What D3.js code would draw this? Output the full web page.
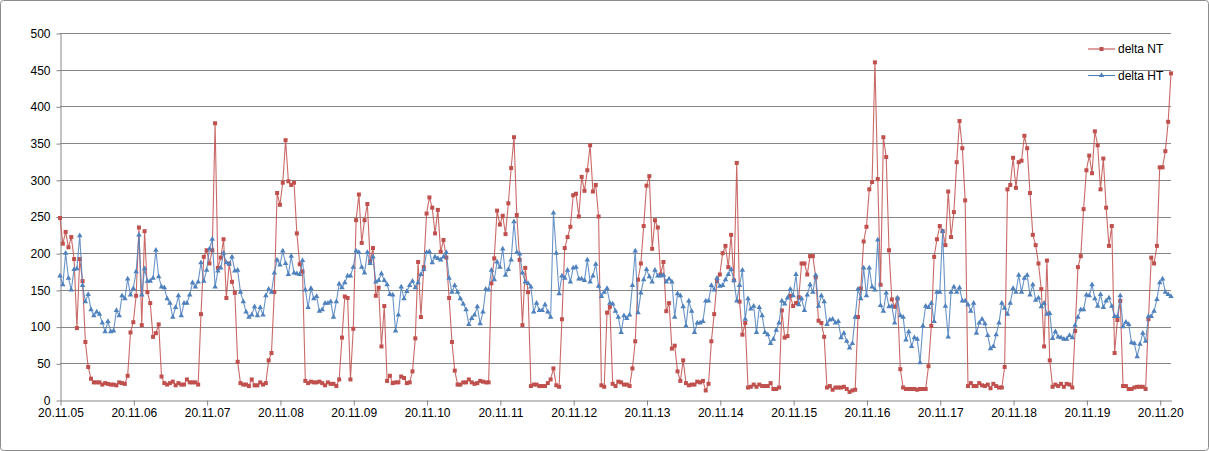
<!DOCTYPE html>
<html><head><meta charset="utf-8">
<script src="https://cdn.jsdelivr.net/npm/d3@7"></script>
<style>
html,body{margin:0;padding:0;background:#fff;}
svg{display:block;font-family:"Liberation Sans",Arial,sans-serif;}
</style></head>
<body><svg id="c" width="1209" height="451"></svg>
<script>
const tickLabels = ["20.11.05","20.11.06","20.11.07","20.11.08","20.11.09","20.11.10","20.11.11","20.11.12","20.11.13","20.11.14","20.11.15","20.11.16","20.11.17","20.11.18","20.11.19","20.11.20"];
const tickEvery = 26;
const yTicks = [0,50,100,150,200,250,300,350,400,450,500];
const seriesNames = ["delta NT","delta HT"];

const deltaNT = [
248,213,229,208,222,192,98,192,162,79,45,29,24,24,24,21,23,22,21,21,20,24,23,22,33,92,106,
142,235,102,230,147,132,86,91,103,32,23,21,23,25,20,23,21,21,28,24,24,24,21,117,195,204,186,204,377,180,194,219,139,
186,161,146,52,23,21,21,19,28,20,20,24,21,23,54,64,147,282,266,296,354,298,293,296,227,185,175,26,23,25,24,24,25,23,20,
24,22,22,19,28,85,141,139,28,97,245,280,214,245,267,189,207,142,153,73,128,26,33,23,24,24,32,30,23,24,39,84,188,113,
181,254,276,262,227,259,202,218,194,139,79,40,21,21,24,24,28,24,22,23,26,25,24,24,159,193,258,239,251,226,268,316,358,252,
191,102,180,147,19,21,21,19,19,19,23,28,43,20,18,110,207,222,236,279,281,250,304,285,313,347,284,293,250,20,18,119,127,22,
19,25,24,21,21,19,43,80,164,186,237,292,305,206,245,235,171,188,121,132,70,74,39,26,54,23,20,21,21,25,24,26,13,
22,80,117,162,171,200,210,181,225,163,323,134,89,105,17,18,21,18,21,19,19,19,23,15,15,17,122,85,87,142,128,132,
140,
186,186,171,196,196,167,108,105,86,17,19,14,17,17,17,18,15,11,13,14,113,152,216,236,287,297,460,301,157,358,331,204,137,127,138,
42,17,15,15,15,15,14,15,15,15,46,101,195,219,237,230,211,284,222,256,324,380,343,272,19,23,19,19,23,20,19,21,16,22,
19,17,17,45,287,293,330,289,324,326,360,343,282,225,211,186,151,73,190,54,18,21,19,22,18,22,21,17,94,181,196,260,313,333,
309,366,347,287,329,262,210,237,64,109,135,19,19,15,15,17,18,18,18,15,110,194,186,210,317,317,339,379,445
];

const deltaHT = [
169,157,200,166,150,178,179,224,156,134,144,123,115,120,117,105,93,107,93,94,122,115,142,138,165,143,152,
175,225,143,179,162,162,166,204,168,154,153,138,132,113,126,142,115,132,132,143,160,154,161,187,162,177,206,219,154,176,180,200,187,
185,195,176,177,147,134,120,113,116,127,115,126,116,142,151,147,173,191,184,203,186,171,196,173,172,171,190,150,126,152,138,141,121,123,132,
132,134,113,134,158,153,160,169,169,181,203,201,181,173,201,186,195,161,163,172,163,157,144,143,94,116,154,138,148,156,162,153,160,171,
178,201,202,187,195,193,191,195,201,166,147,156,147,138,131,123,103,111,116,127,104,120,151,150,177,164,188,181,206,170,178,191,243,201,
199,173,161,159,154,120,132,122,122,130,120,113,255,200,145,169,166,177,161,180,181,165,165,163,191,161,169,185,155,141,147,152,132,
131,121,113,92,115,111,116,156,203,119,146,164,178,168,161,177,169,169,170,161,165,161,113,145,142,127,101,135,121,92,105,105,107,135,
135,156,150,166,155,156,164,171,178,163,135,156,177,110,138,124,128,92,126,115,92,89,77,83,95,105,135,131,139,151,142,171,130,138,
122,143,157,147,170,128,142,134,103,109,110,105,107,85,91,80,71,77,113,151,138,180,142,180,154,150,218,129,121,146,127,128,105,139,
115,113,82,93,73,85,83,51,101,128,126,132,107,147,147,230,128,86,147,154,147,153,135,135,130,121,132,91,105,110,104,88,70,73,
89,105,132,125,117,132,152,147,170,147,166,170,143,157,136,139,127,132,117,118,84,93,86,85,83,83,88,85,102,113,123,123,143,142,
157,138,128,144,126,135,139,128,114,114,142,100,106,103,78,77,59,76,91,80,114,114,121,137,160,165,147,144,141
];

const colors = ["#C0504D","#4F81BD"];
const W = 1209, H = 451;
const plotL = 60, plotR = 1171, plotT = 33, plotB = 400;

const svg = d3.select("#c");
svg.append("rect").attr("x",0.5).attr("y",0.5).attr("width",W-1).attr("height",H-1)
  .attr("rx",3).attr("fill","#fff").attr("stroke","#8c8c8c");

const x = d3.scalePoint().domain(d3.range(deltaNT.length)).range([plotL, plotR]);
const y = d3.scaleLinear().domain([0, 500]).range([plotB, plotT]);

// gridlines
svg.append("g").selectAll("line").data(yTicks.filter(v => v > 0)).join("line")
  .attr("x1", plotL).attr("x2", plotR)
  .attr("y1", d => Math.round(y(d)) + 0.5).attr("y2", d => Math.round(y(d)) + 0.5)
  .attr("stroke", "#868686").attr("stroke-width", 1);

// y axis
const gy = svg.append("g").attr("transform", `translate(${plotL + 0.5},0.5)`)
  .call(d3.axisLeft(y).tickValues(yTicks).tickSize(4).tickPadding(6).tickSizeOuter(0));
gy.select(".domain").attr("stroke", "#868686");
gy.selectAll(".tick line").attr("stroke", "#868686");
gy.selectAll("text").attr("font-size", 12).attr("fill", "#000")
  .attr("font-family", "'Liberation Sans', Arial, sans-serif");

// x axis
const gx = svg.append("g").attr("transform", `translate(0.5,${plotB + 0.5})`)
  .call(d3.axisBottom(x)
    .tickValues(d3.range(0, deltaNT.length, tickEvery))
    .tickFormat(i => tickLabels[i / tickEvery])
    .tickSize(5).tickPadding(3).tickSizeOuter(0));
gx.select(".domain").attr("stroke", "#868686");
gx.selectAll(".tick line").attr("stroke", "#868686");
gx.selectAll("text").attr("font-size", 12).attr("fill", "#000")
  .attr("font-family", "'Liberation Sans', Arial, sans-serif");

const line = d3.line().x((d, i) => x(i)).y(d => y(d));
const tri = d3.symbol().type(d3.symbolTriangle).size(13);

function drawSeries(data, color, kind) {
  const g = svg.append("g");
  g.append("path").datum(data).attr("d", line)
    .attr("fill", "none").attr("stroke", color).attr("stroke-width", 1.1)
    .attr("stroke-opacity", 0.85).attr("stroke-linejoin", "round");
  if (kind === "square") {
    g.selectAll("rect").data(data).join("rect")
      .attr("x", (d, i) => x(i) - 2).attr("y", d => y(d) - 2)
      .attr("width", 4).attr("height", 4).attr("fill", color);
  } else {
    g.selectAll("path.m").data(data).join("path").attr("class", "m")
      .attr("transform", (d, i) => `translate(${x(i)},${y(d)})`)
      .attr("d", tri).attr("fill", color);
  }
}
drawSeries(deltaNT, colors[0], "square");
drawSeries(deltaHT, colors[1], "triangle");

// legend
const legY = [49, 75.5];
const lg = svg.append("g");
seriesNames.forEach((name, k) => {
  const yy = legY[k];
  lg.append("line").attr("x1", 1088).attr("x2", 1115).attr("y1", yy).attr("y2", yy)
    .attr("stroke", colors[k]).attr("stroke-width", 1.1);
  if (k === 0) {
    lg.append("rect").attr("x", 1099.5).attr("y", yy - 2).attr("width", 4).attr("height", 4).attr("fill", colors[k]);
  } else {
    lg.append("path").attr("transform", `translate(1101.5,${yy})`).attr("d", tri).attr("fill", colors[k]);
  }
  lg.append("text").attr("x", 1118).attr("y", yy).attr("dy", "0.35em")
    .attr("font-size", 12).attr("fill", "#000").text(name);
});
</script>
</body></html>
